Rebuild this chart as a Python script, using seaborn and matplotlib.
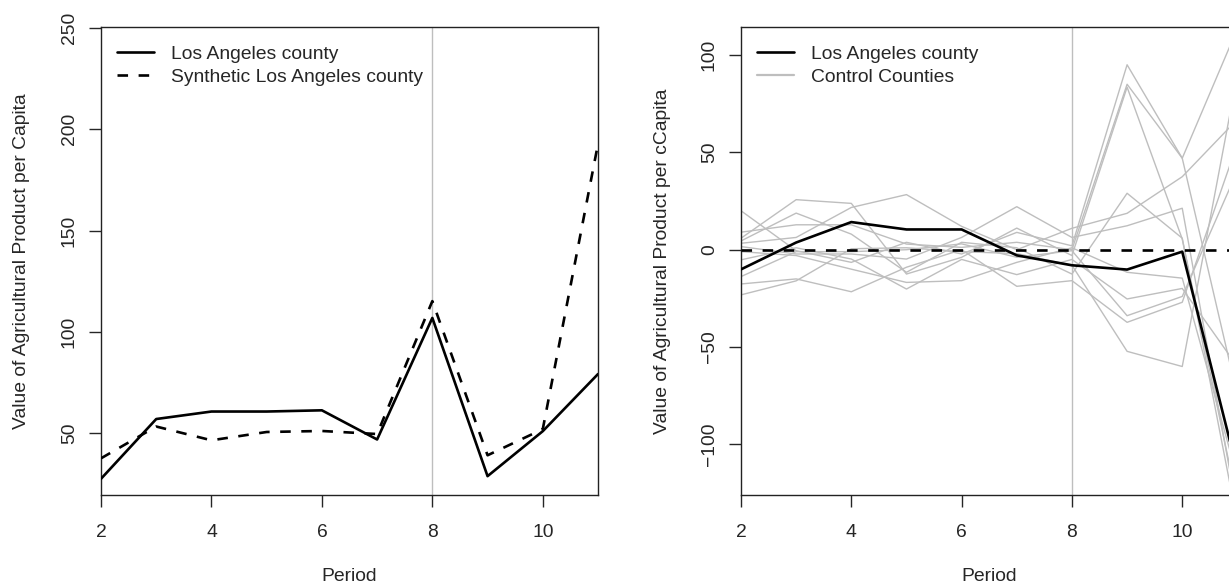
import numpy as np
import pandas as pd
import matplotlib
matplotlib.use("Agg")
import matplotlib.pyplot as plt
from matplotlib.lines import Line2D
import seaborn as sns

# ---------------- data ----------------
periods = [2, 3, 4, 5, 6, 7, 8, 9, 10, 11]
la_actual = [27.5, 57.0, 60.7, 60.7, 61.3, 46.9, 106.9, 28.8, 51.0, 79.2]
la_synthetic = [37.6, 53.3, 46.5, 50.6, 51.1, 49.6, 115.2, 39.1, 52.0, 192.8]
la_gap = [-10.1, 3.7, 14.2, 10.4, 10.4, -2.9, -8.0, -10.2, -1.0, -113.6]

control_names = ["C1", "C2", "C3", "C4", "C5", "C6", "C7", "C8", "C9", "C10", "C11"]
c1 = [20.0, -0.5, -6.5, 3.8, -2.2, 8.9, 2.0, 95.0, 47.0, 113.6]
c2 = [9.0, 12.8, 12.8, 2.9, 1.2, 3.8, 0.0, 85.0, 47.0, -75.0]
c3 = [5.9, 25.7, 23.8, -12.5, -3.9, 11.1, -3.0, 83.5, 5.5, -130.0]
c4 = [4.5, 18.8, 8.0, -11.6, 3.8, 1.0, -12.5, 29.0, 5.9, -140.0]
c5 = [3.3, 6.3, 21.7, 28.3, 12.0, 0.0, 11.0, 18.7, 37.5, 67.0]
c6 = [1.6, -2.2, -2.2, -4.8, 6.3, 22.1, 6.3, 12.3, 21.3, -135.0]
c7 = [-1.0, -3.0, -10.0, -16.8, -15.9, -6.5, 1.0, -11.6, -14.6, -117.0]
c8 = [-5.2, 1.0, -4.8, -20.2, -5.0, -12.8, -5.0, -25.3, -19.9, -60.0]
c9 = [-13.8, -1.0, -1.0, 0.0, 3.0, -3.9, -0.5, -33.9, -24.0, 40.5]
c10 = [-17.6, -15.0, -21.6, -9.0, 0.0, -18.8, -15.9, -37.3, -27.0, 54.5]
c11 = [-23.2, -16.0, 0.5, 1.0, -1.0, -2.0, -8.0, -52.2, -60.0, 90.0]
controls = [c1, c2, c3, c4, c5, c6, c7, c8, c9, c10, c11]

treatment_period = 8

left_yticks = [50, 100, 150, 200, 250]
right_yticks = [-100, -50, 0, 50, 100]
right_yticklabels = ["\u2212100", "\u221250", "0", "50", "100"]
xticks = [2, 4, 6, 8, 10]

# ---------------- frames ----------------
df_left = pd.DataFrame({
    "Period": periods * 2,
    "value": la_actual + la_synthetic,
    "series": ["Los Angeles county"] * len(periods)
              + ["Synthetic Los Angeles county"] * len(periods),
})
df_gap = pd.DataFrame({"Period": periods, "value": la_gap})
df_ctrl = pd.DataFrame({
    "Period": periods * len(controls),
    "value": [v for c in controls for v in c],
    "county": [n for n in control_names for _ in periods],
})

# ---------------- style ----------------
sns.set_style("ticks")
plt.rcParams["font.family"] = ["Liberation Sans", "DejaVu Sans"]
plt.rcParams["font.size"] = 13.9
plt.rcParams["axes.linewidth"] = 1.0
plt.rcParams["axes.edgecolor"] = "#222222"
plt.rcParams["xtick.major.size"] = 8.6
plt.rcParams["ytick.major.size"] = 8.6
plt.rcParams["xtick.major.width"] = 1.0
plt.rcParams["ytick.major.width"] = 1.0
plt.rcParams["xtick.major.pad"] = 12
plt.rcParams["ytick.major.pad"] = 8

W, H = 1229, 586
fig = plt.figure(figsize=(W / 100, H / 100), dpi=100)
bottom = 1 - 495 / H
height = 468 / H
ax1 = fig.add_axes([101 / W, bottom, 497 / W, height])
ax2 = fig.add_axes([741 / W, bottom, 496.4 / W, height])

BLACK = "black"
GREY = "#bebebe"
LW = 1.9
DASH = (4, 4)

# ---------------- left panel ----------------
ax1.axvline(treatment_period, color=GREY, lw=1.0, zorder=1)
sns.lineplot(data=df_left, x="Period", y="value", style="series",
             style_order=["Los Angeles county", "Synthetic Los Angeles county"],
             dashes={"Los Angeles county": "", "Synthetic Los Angeles county": DASH},
             color=BLACK, lw=LW, ax=ax1, legend=False, zorder=3)
ax1.set_xlim(2, 11)
ax1.set_ylim(19.5, 250.5)
ax1.set_xticks(xticks)
ax1.set_yticks(left_yticks)
ax1.set_yticklabels([str(t) for t in left_yticks], rotation=90, va="center")

h1 = [Line2D([], [], color=BLACK, lw=LW),
      Line2D([], [], color=BLACK, lw=LW, dashes=DASH)]
ax1.legend(h1, ["Los Angeles county", "Synthetic Los Angeles county"],
           loc="upper left", bbox_to_anchor=(0.032, 0.96), frameon=False,
           borderpad=0, borderaxespad=0, handlelength=1.9, handletextpad=0.9,
           labelspacing=0.25)

# ---------------- right panel ----------------
ax2.axvline(treatment_period, color=GREY, lw=1.0, zorder=1)
sns.lineplot(data=df_ctrl, x="Period", y="value", units="county",
             estimator=None, color=GREY, lw=1.0, ax=ax2, legend=False, zorder=2)
sns.lineplot(data=df_gap, x="Period", y="value", color=BLACK, lw=LW,
             ax=ax2, legend=False, zorder=4)
ax2.axhline(0, color=BLACK, lw=LW, dashes=DASH, zorder=5)
ax2.set_xlim(2, 11)
ax2.set_ylim(-126, 114.4)
ax2.set_xticks(xticks)
ax2.set_yticks(right_yticks)
ax2.set_yticklabels(right_yticklabels, rotation=90, va="center")

h2 = [Line2D([], [], color=BLACK, lw=LW),
      Line2D([], [], color=GREY, lw=1.6)]
ax2.legend(h2, ["Los Angeles county", "Control Counties"],
           loc="upper left", bbox_to_anchor=(0.032, 0.96), frameon=False,
           borderpad=0, borderaxespad=0, handlelength=1.9, handletextpad=0.9,
           labelspacing=0.25)

# ---------------- labels ----------------
ax1.set_xlabel("Period")
ax1.set_ylabel("Value of Agricultural Product per Capita")
ax2.set_xlabel("Period")
ax2.set_ylabel("Value of Agricultural Product per cCapita")
for ax in (ax1, ax2):
    ax.xaxis.set_label_coords(0.5, -0.155)
    ax.yaxis.set_label_coords(-0.142, 0.5)
    for s in ax.spines.values():
        s.set_visible(True)

fig.savefig("out.png", dpi=100)
